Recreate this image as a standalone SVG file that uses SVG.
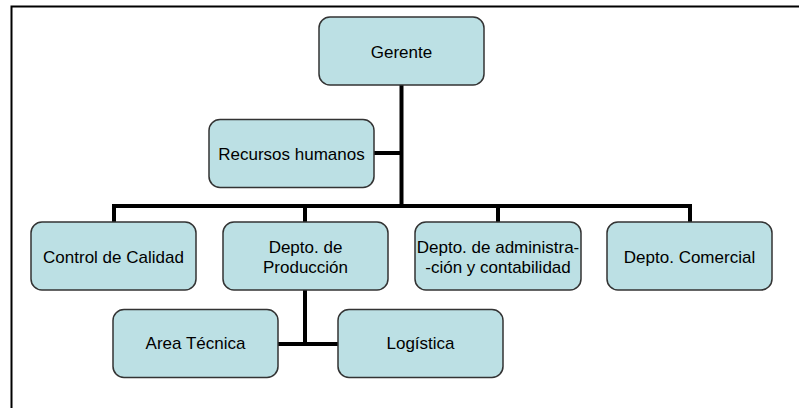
<svg xmlns="http://www.w3.org/2000/svg" width="799" height="408" viewBox="0 0 799 408">
<style>
.box{fill:#bce0e4;stroke:#333;stroke-width:1.5}
.lbl{font-family:"Liberation Sans",Arial,sans-serif;font-size:17px;fill:#000;text-anchor:middle}
.con{stroke:#000;stroke-width:4;fill:none}
</style>
<rect width="799" height="408" fill="#fff"/>
<g id="frame"><path d="M11.5 408 V6.5 H799" stroke="#000" stroke-width="2" fill="none"/></g>
<g id="connectors">
<path class="con" d="M401.5 85 V206"/>
<path class="con" d="M374 153 H401.5"/>
<path class="con" d="M112 206 H692"/>
<path class="con" d="M114 206 V222"/>
<path class="con" d="M305 206 V222"/>
<path class="con" d="M498 206 V222"/>
<path class="con" d="M690 206 V222"/>
<path class="con" d="M305 290 V344"/>
<path class="con" d="M278 344 H338"/>
</g>
<g id="gerente"><rect class="box" x="319" y="17" width="165" height="68" rx="11"/><text class="lbl" x="401.5" y="58">Gerente</text></g>
<g id="rrhh"><rect class="box" x="209" y="119.5" width="165" height="68" rx="11"/><text class="lbl" x="291.5" y="160">Recursos humanos</text></g>
<g id="calidad"><rect class="box" x="31" y="222" width="165" height="68" rx="11"/><text class="lbl" x="113.5" y="263">Control de Calidad</text></g>
<g id="produccion"><rect class="box" x="223" y="222" width="165" height="68" rx="11"/><text class="lbl" x="305.5" y="252.5">Depto. de</text><text class="lbl" x="305.5" y="272.5">Producción</text></g>
<g id="administracion"><rect class="box" x="415" y="222" width="166" height="68" rx="11"/><text class="lbl" x="498" y="252.5">Depto. de administra-</text><text class="lbl" x="498" y="272.5">-ción y contabilidad</text></g>
<g id="comercial"><rect class="box" x="607" y="222" width="165" height="68" rx="11"/><text class="lbl" x="689.5" y="263">Depto. Comercial</text></g>
<g id="tecnica"><rect class="box" x="113" y="309.5" width="165" height="68" rx="11"/><text class="lbl" x="195.5" y="349">Area Técnica</text></g>
<g id="logistica"><rect class="box" x="338" y="309.5" width="165" height="68" rx="11"/><text class="lbl" x="420.5" y="349">Logística</text></g>
</svg>
